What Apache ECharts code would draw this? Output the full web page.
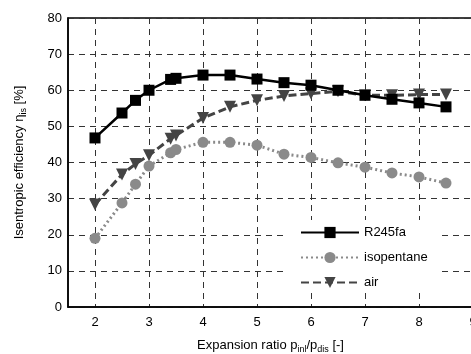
<!DOCTYPE html>
<html>
<head>
<meta charset="utf-8">
<script src="https://cdn.jsdelivr.net/npm/echarts@6/dist/echarts.min.js"></script>
<style>
  html, body { margin: 0; padding: 0; background: #fff; }
  #chart { width: 471px; height: 354px; }
</style>
</head>
<body>
<div id="chart"></div>
<script>
// data
var xR245fa = [2, 2.5, 2.75, 3, 3.4, 3.5, 4, 4.5, 5, 5.5, 6, 6.5, 7, 7.5, 8, 8.5];
var yR245fa = [46.8, 53.7, 57.2, 60, 63, 63.3, 64.2, 64.2, 63.1, 62.1, 61.4, 60, 58.6, 57.5, 56.5, 55.4];
var xIso = [2, 2.5, 2.75, 3, 3.4, 3.5, 4, 4.5, 5, 5.5, 6, 6.5, 7, 7.5, 8, 8.5];
var yIso = [19, 28.8, 34, 39, 42.7, 43.6, 45.6, 45.6, 44.8, 42.3, 41.4, 39.9, 38.7, 37.1, 36, 34.3];
var xAir = [2, 2.5, 2.75, 3, 3.4, 3.5, 4, 4.5, 5, 5.5, 6, 6.5, 7, 7.5, 8, 8.5];
var yAir = [28.4, 36.7, 39.6, 42, 46.6, 47.5, 52.3, 55.4, 57.2, 58.4, 59.1, 59.7, 58.6, 58.6, 58.8, 58.8];
var xTicks = [2, 3, 4, 5, 6, 7, 8, 9];

function pairs(xs, ys) {
    var out = [];
    for (var i = 0; i < xs.length; i++) out.push([xs[i], ys[i]]);
    return out;
}

var myChart = echarts.init(document.getElementById('chart'));
var fontName = 'Liberation Sans, Arial, sans-serif';
var gridLine = { show: true, lineStyle: { color: '#333', type: [6, 5], width: 1 } };

var option = {
    animation: false,
    textStyle: { fontFamily: fontName },
    grid: {
        left: 68, top: 18, right: -2, bottom: 47,
        outerBoundsMode: 'none',
        containLabel: false,
        show: true, borderColor: '#000', borderWidth: 1.5
    },
    legend: {
        orient: 'vertical',
        left: 287, top: 220,
        padding: [6, 12, 4, 13],
        backgroundColor: '#fff',
        itemWidth: 58, itemHeight: 14, itemGap: 12,
        textStyle: { fontSize: 13, color: '#000', fontFamily: fontName },
        data: ['R245fa', 'isopentane', 'air']
    },
    xAxis: {
        type: 'value',
        min: 1.5, max: 9,
        name: 'Expansion ratio p{sub|inl}/p{sub|dis} [-]',
        nameLocation: 'middle',
        nameGap: 30,
        nameTextStyle: {
            fontSize: 13, color: '#000', fontFamily: fontName,
            rich: { sub: { fontSize: 9, padding: [8, 0, 0, 0], fontFamily: fontName, color: '#000' } }
        },
        axisLine: { lineStyle: { color: '#000', width: 1.5 } },
        axisTick: { show: false, customValues: xTicks },
        axisLabel: { customValues: xTicks, fontSize: 13, color: '#000', margin: 9 },
        splitLine: gridLine
    },
    yAxis: {
        type: 'value',
        min: 0, max: 80, interval: 10,
        name: 'Isentropic efficiency η{sub|is} [%]',
        nameLocation: 'middle',
        nameGap: 40,
        nameTextStyle: {
            fontSize: 13, color: '#000', fontFamily: fontName,
            rich: { sub: { fontSize: 9, padding: [8, 0, 0, 0], fontFamily: fontName, color: '#000' } }
        },
        axisLine: { show: true, lineStyle: { color: '#000', width: 1.5 } },
        axisTick: { show: false },
        axisLabel: { fontSize: 13, color: '#000', margin: 6 },
        splitLine: gridLine
    },
    series: [
        {
            name: 'R245fa',
            type: 'line',
            data: pairs(xR245fa, yR245fa),
            symbol: 'rect', symbolSize: 11,
            lineStyle: { color: '#000', width: 2.5, type: 'solid' },
            itemStyle: { color: '#000' },
            z: 4
        },
        {
            name: 'isopentane',
            type: 'line',
            data: pairs(xIso, yIso),
            symbol: 'circle', symbolSize: 11,
            lineStyle: { color: '#8a8a8a', width: 3, type: [2, 3] },
            itemStyle: { color: '#8a8a8a' },
            z: 2
        },
        {
            name: 'air',
            type: 'line',
            data: pairs(xAir, yAir),
            symbol: 'triangle', symbolSize: 12, symbolRotate: 180,
            lineStyle: { color: '#444', width: 3, type: [8, 4] },
            itemStyle: { color: '#444' },
            z: 3
        }
    ]
};

myChart.setOption(option);
</script>
</body>
</html>
